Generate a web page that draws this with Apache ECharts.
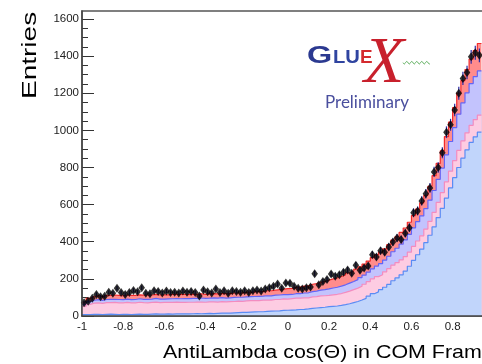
<!DOCTYPE html>
<html>
<head>
<meta charset="utf-8">
<script src="https://cdn.jsdelivr.net/npm/echarts@6/dist/echarts.min.js"></script>
<style>
  html, body { margin: 0; padding: 0; width: 482px; height: 364px; overflow: hidden; background: #fff; }
  #chart { width: 500px; height: 364px; }
</style>
</head>
<body>
<div id="chart"></div>
<script>
// Binning: 0.02-wide bins starting at cos = -1 (first 97 bins filled)
const xMin = -1, xMax = 1, binWidth = 0.02;
const yMax = 1643;
const xTickStep = 0.2;
const yTickValues = [0, 200, 400, 600, 800, 1000, 1200, 1400, 1600];
const yMinorStep = 50;

// Simulated components, entries per bin (drawn stacked, bottom to top)
const blueComp = [
  7, 8, 9, 9, 8, 9, 10, 9, 8, 9,
  9, 8, 9, 10, 9, 9, 10, 11, 10, 10,
  11, 10, 11, 11, 12, 11, 12, 13, 12, 13,
  14, 13, 14, 15, 16, 15, 17, 18, 19, 20,
  21, 22, 23, 23, 25, 26, 27, 28, 30, 31,
  32, 33, 35, 36, 38, 41, 43, 45, 47, 50,
  52, 54, 57, 61, 66, 72, 78, 86, 95, 107,
  120, 130, 142, 155, 170, 190, 205, 222, 242, 268,
  300, 330, 360, 395, 435, 480, 530, 580, 635, 690,
  745, 800, 850, 895, 935, 965, 990
];
const pinkComp = [
  45, 55, 60, 62, 60, 63, 62, 64, 63, 62,
  64, 63, 62, 64, 63, 62, 63, 64, 62, 63,
  62, 63, 64, 62, 61, 63, 62, 62, 63, 61,
  62, 63, 61, 62, 60, 62, 61, 62, 60, 61,
  62, 61, 60, 62, 61, 60, 62, 61, 62, 60,
  62, 63, 61, 62, 60, 62, 61, 63, 62, 61,
  62, 63, 64, 66, 68, 70, 72, 74, 76, 78,
  80, 82, 80, 83, 85, 84, 82, 80, 78, 76,
  75, 74, 72, 73, 75, 78, 82, 85, 88, 90,
  92, 92, 93, 92, 92, 93, 92
];
const violetComp = [
  10, 14, 16, 17, 16, 17, 18, 17, 18, 17,
  18, 17, 18, 19, 18, 19, 18, 20, 19, 18,
  19, 20, 19, 20, 21, 20, 21, 20, 22, 21,
  20, 22, 21, 22, 20, 21, 22, 21, 22, 22,
  21, 22, 23, 22, 23, 22, 23, 24, 23, 24,
  22, 24, 25, 26, 27, 28, 30, 31, 33, 35,
  37, 38, 40, 41, 43, 44, 46, 47, 49, 51,
  54, 57, 60, 63, 67, 72, 78, 85, 90, 96,
  100, 104, 107, 110, 114, 118, 124, 132, 145, 160,
  178, 195, 205, 215, 225, 232, 238
];
const redComp = [
  12, 18, 20, 22, 21, 22, 21, 23, 22, 21,
  22, 23, 22, 21, 22, 23, 22, 21, 22, 23,
  22, 23, 22, 23, 22, 21, 23, 22, 23, 22,
  23, 22, 23, 22, 24, 23, 24, 23, 24, 25,
  24, 25, 26, 25, 27, 28, 27, 29, 30, 32,
  33, 34, 35, 37, 38, 40, 41, 43, 45, 47,
  49, 50, 52, 53, 55, 56, 57, 58, 59, 60,
  60, 61, 62, 61, 62, 63, 62, 63, 64, 65,
  66, 68, 70, 72, 75, 80, 86, 92, 98, 104,
  108, 114, 120, 126, 132, 140, 148
];

// Measured entries per bin
const dataCounts = [
  72, 80, 96, 116, 104, 106, 128, 122, 150, 126,
  116, 126, 138, 130, 152, 122, 120, 136, 132, 124,
  134, 126, 128, 124, 134, 128, 132, 126, 108, 140,
  130, 124, 146, 126, 136, 122, 136, 132, 128, 136,
  126, 136, 140, 134, 146, 152, 160, 172, 150, 178,
  176, 160, 150, 146, 152, 156, 228, 168, 186, 196,
  226, 214, 222, 236, 248, 230, 274, 246, 258, 270,
  330, 318, 352, 344, 372, 398, 420, 412, 446, 476,
  556, 566, 620, 658, 690, 776, 800, 880, 990, 1030,
  1110, 1200, 1280, 1312, 1396, 1418, 1404
];

// Running totals give the outline of each stack layer
const levelBlue = blueComp.slice();
const levelPink = levelBlue.map((v, i) => v + pinkComp[i]);
const levelViolet = levelPink.map((v, i) => v + violetComp[i]);
const levelRed = levelViolet.map((v, i) => v + redComp[i]);

// Histogram outline: one point per left bin edge, closed at the last right edge
function histPoints(values) {
  const pts = values.map((v, i) => [xMin + i * binWidth, v]);
  pts.push([xMin + values.length * binWidth, values[values.length - 1]]);
  return pts;
}

function layer(name, values, fill, edge, z) {
  return {
    name, type: 'line', step: 'end', data: histPoints(values),
    symbol: 'none', z, silent: true,
    lineStyle: { color: edge, width: 1.2 },
    areaStyle: { color: fill, opacity: 1 }
  };
}

const binCenters = dataCounts.map((v, i) => xMin + (i + 0.5) * binWidth);
const dataPoints = dataCounts.map((v, i) => [binCenters[i], v, Math.sqrt(v)]);

const yMinorValues = [];
for (let v = 0; v <= yTickValues[yTickValues.length - 1]; v += yMinorStep) yMinorValues.push(v);

// Small sine wave next to the logo's X
const wavePts = [];
for (let k = 0; k <= 54; k++) {
  wavePts.push([403 + k * 0.5, 62.7 + 1.3 * Math.sin(k * 0.5 * 2 * Math.PI / 5)]);
}

const sansFont = '"Liberation Sans", Arial, Helvetica, sans-serif';
const plainNumber = v => String(v);

const chart = echarts.init(document.getElementById('chart'), null, { renderer: 'canvas' });
chart.setOption({
  animation: false,
  backgroundColor: '#fff',
  grid: {
    left: 82, right: 4, top: 11, bottom: 48,
    show: true, borderColor: '#555', borderWidth: 1.5, backgroundColor: 'transparent'
  },
  xAxis: {
    type: 'value', min: xMin, max: xMax, interval: xTickStep, z: 10,
    axisLine: { show: true, onZero: false, lineStyle: { color: '#444', width: 1.5 } },
    axisTick: { show: false },
    splitLine: { show: false },
    axisLabel: { fontSize: 11.5, color: '#222', margin: 5, fontFamily: sansFont, formatter: plainNumber }
  },
  yAxis: [
    {
      type: 'value', min: 0, max: yMax, position: 'left',
      axisLine: { show: false, onZero: false },
      axisTick: { show: true, inside: true, length: 12, customValues: yTickValues,
                  lineStyle: { color: '#333', width: 1 } },
      axisLabel: { fontSize: 11.5, color: '#222', margin: 3, fontFamily: sansFont,
                   customValues: yTickValues, formatter: plainNumber },
      splitLine: { show: false }
    },
    {
      type: 'value', min: 0, max: yMax, position: 'left',
      axisLine: { show: false, onZero: false },
      axisTick: { show: true, inside: true, length: 6, customValues: yMinorValues,
                  lineStyle: { color: '#333', width: 1 } },
      axisLabel: { show: false },
      splitLine: { show: false }
    },
    {
      type: 'value', min: 0, max: yMax, position: 'left', z: 10,
      axisLine: { show: true, onZero: false, lineStyle: { color: '#444', width: 1.5 } },
      axisTick: { show: false },
      axisLabel: { show: false },
      splitLine: { show: false }
    }
  ],
  series: [
    layer('red', levelRed, '#ff8c8c', '#f22a2a', 2),
    layer('violet', levelViolet, '#c3c3fd', '#6464f6', 3),
    layer('pink', levelPink, '#fdcce2', '#f38cc0', 4),
    layer('blue', levelBlue, '#c1d5fb', '#5a8cf4', 5),
    {
      name: 'errors', type: 'custom', z: 6, silent: true,
      data: dataPoints,
      encode: { x: 0, y: 1 },
      renderItem: function (params, api) {
        const x = api.value(0), y = api.value(1), e = api.value(2);
        const p1 = api.coord([x, y + e]);
        const p2 = api.coord([x, y - e]);
        return {
          type: 'line',
          shape: { x1: p1[0], y1: p1[1], x2: p2[0], y2: p2[1] },
          style: { stroke: '#2a2aa6', lineWidth: 1.2 }
        };
      }
    },
    {
      name: 'data', type: 'scatter', z: 7, silent: true,
      symbol: 'diamond', symbolSize: [6.5, 9],
      itemStyle: { color: '#000' },
      data: dataPoints.map(p => [p[0], p[1]])
    }
  ],
  graphic: [
    {
      type: 'text', x: 30.5, y: 99, rotation: Math.PI / 2, scaleX: 1.4,
      style: { text: 'Entries', fontSize: 20, fontFamily: sansFont, fill: '#000',
               align: 'left', verticalAlign: 'middle' }
    },
    {
      type: 'text', x: 163, y: 352.5, scaleX: 1.157,
      style: { text: 'AntiLambda cos(\u0398) in COM Frame', fontSize: 18.5, fontFamily: sansFont,
               fill: '#000', align: 'left', verticalAlign: 'middle' }
    },
    {
      type: 'text', x: 307, y: 56, scaleX: 1.35,
      style: { text: 'G', fontSize: 24, fontWeight: 'bold', fontFamily: sansFont,
               fill: '#2b3990', align: 'left', verticalAlign: 'middle' }
    },
    {
      type: 'text', x: 333, y: 58.5, scaleX: 1.12,
      style: { text: 'LU', fontSize: 18, fontWeight: 'bold', fontFamily: sansFont,
               fill: '#2f44a0', align: 'left', verticalAlign: 'middle' }
    },
    {
      type: 'text', x: 360, y: 58.5, scaleX: 1.05,
      style: { text: 'E', fontSize: 18, fontWeight: 'bold', fontFamily: sansFont,
               fill: '#d42a2e', align: 'left', verticalAlign: 'middle' }
    },
    {
      type: 'text', x: 364, y: 64.5,
      style: { text: 'X', fontSize: 66, fontStyle: 'italic', fontFamily: '"Liberation Serif", serif',
               fill: '#c8202c', align: 'left', verticalAlign: 'middle' }
    },
    {
      type: 'polyline',
      shape: { points: wavePts },
      style: { stroke: '#5cae5c', lineWidth: 1, fill: null }
    },
    {
      type: 'text', x: 325, y: 103,
      style: { text: 'Preliminary', fontSize: 17, fontFamily: 'Lato, "Open Sans", sans-serif',
               fill: '#4a4f9e', align: 'left', verticalAlign: 'middle' }
    }
  ]
});
</script>
</body>
</html>
